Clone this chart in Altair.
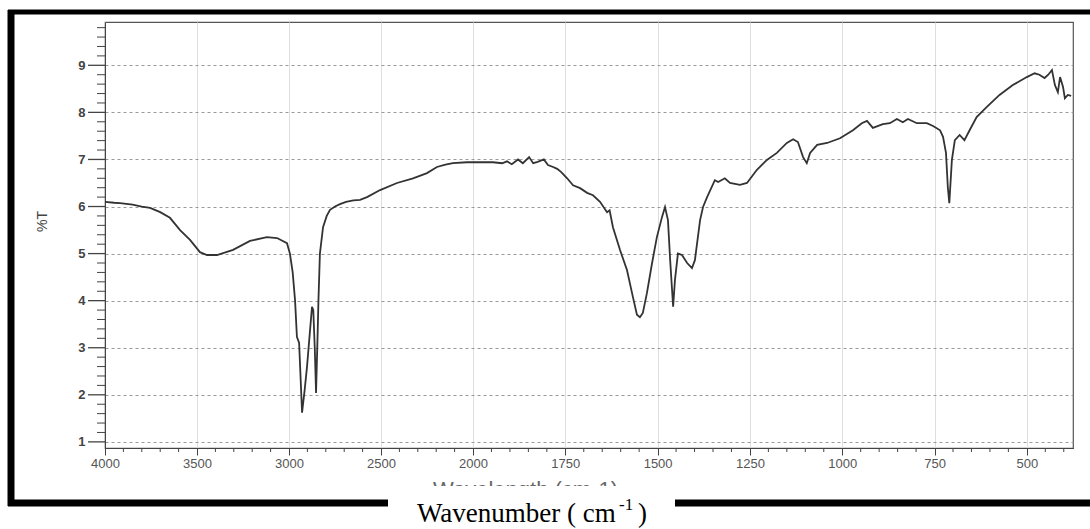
import altair as alt
import pandas as pd

# ---- spectrum values ----
wavenumber = [4000, 3950, 3918, 3850, 3800, 3755, 3700, 3647, 3592, 3538, 3484, 3446, 3391, 3350,
              3304, 3212, 3120, 3065, 3011, 2995, 2980, 2967, 2957, 2945, 2929, 2915, 2902, 2885,
              2875, 2868, 2860, 2853, 2845, 2840, 2832, 2815, 2795, 2777, 2750, 2723, 2690, 2650,
              2614, 2576, 2505, 2413, 2326, 2250, 2196, 2150, 2109, 2033, 1981, 1946, 1921, 1908,
              1895, 1878, 1865, 1848, 1837, 1825, 1808, 1797, 1783, 1772, 1761, 1745, 1729, 1710,
              1691, 1675, 1656, 1637, 1630, 1621, 1602, 1583, 1567, 1556, 1548, 1540, 1529, 1515,
              1502, 1488, 1480, 1472, 1466, 1458, 1453, 1445, 1434, 1420, 1407, 1399, 1385, 1377,
              1366, 1345, 1336, 1318, 1304, 1277, 1258, 1231, 1204, 1177, 1150, 1133, 1120, 1106,
              1096, 1087, 1068, 1041, 1006, 971, 947, 933, 917, 890, 871, 852, 836, 822, 798, 771,
              754, 735, 727, 719, 714, 710, 703, 695, 682, 669, 655, 636, 609, 574, 538, 500, 479,
              466, 452, 442, 432, 424, 416, 410, 402, 397, 389, 380]
transmittance = [6.10, 6.08, 6.07, 6.04, 6.00, 5.97, 5.88, 5.76, 5.50, 5.29, 5.03, 4.97, 4.97, 5.02,
                 5.08, 5.27, 5.35, 5.33, 5.22, 5.00, 4.60, 4.00, 3.23, 3.10, 1.62, 2.10, 2.60, 3.40,
                 3.87, 3.80, 3.00, 2.04, 3.20, 4.00, 5.00, 5.56, 5.80, 5.93, 6.00, 6.05, 6.10, 6.13,
                 6.14, 6.20, 6.35, 6.50, 6.60, 6.71, 6.84, 6.89, 6.92, 6.94, 6.94, 6.94, 6.92, 6.96,
                 6.90, 7.00, 6.92, 7.05, 6.92, 6.95, 7.00, 6.88, 6.84, 6.80, 6.73, 6.60, 6.45, 6.39,
                 6.29, 6.24, 6.10, 5.88, 5.92, 5.56, 5.08, 4.65, 4.08, 3.70, 3.65, 3.74, 4.16, 4.80,
                 5.35, 5.78, 5.99, 5.71, 4.86, 3.87, 4.44, 5.00, 4.97, 4.80, 4.69, 4.86, 5.71, 5.99,
                 6.20, 6.56, 6.52, 6.60, 6.50, 6.46, 6.50, 6.78, 6.99, 7.14, 7.35, 7.43, 7.37, 7.05,
                 6.92, 7.14, 7.31, 7.35, 7.45, 7.62, 7.77, 7.82, 7.67, 7.75, 7.77, 7.86, 7.79, 7.86,
                 7.77, 7.77, 7.71, 7.62, 7.48, 7.14, 6.41, 6.07, 6.99, 7.41, 7.52, 7.41, 7.62, 7.90,
                 8.11, 8.37, 8.58, 8.75, 8.83, 8.80, 8.73, 8.80, 8.90, 8.58, 8.43, 8.75, 8.54, 8.30,
                 8.37, 8.35]

x_major = [4000, 3500, 3000, 2500, 2000, 1750, 1500, 1250, 1000, 750, 500]
x_minor = [3900, 3800, 3700, 3600, 3400, 3300, 3200, 3100, 2900, 2800, 2700, 2600,
           2400, 2300, 2200, 2100, 1950, 1900, 1850, 1800, 1700, 1650, 1600, 1550,
           1450, 1400, 1350, 1300, 1200, 1150, 1100, 1050, 950, 900, 850, 800,
           700, 650, 600, 550, 450, 400]
y_major = [1, 2, 3, 4, 5, 6, 7, 8, 9]
y_minor = [1.2, 1.4, 1.6, 1.8, 2.2, 2.4, 2.6, 2.8, 3.2, 3.4, 3.6, 3.8, 4.2, 4.4, 4.6, 4.8,
           5.2, 5.4, 5.6, 5.8, 6.2, 6.4, 6.6, 6.8, 7.2, 7.4, 7.6, 7.8, 8.2, 8.4, 8.6, 8.8,
           9.2, 9.4, 9.6, 9.8]

W, H = 968, 426

spec = pd.DataFrame({"wn": wavenumber, "t": transmittance})
xmin_df = pd.DataFrame({"wn": x_minor})
ymin_df = pd.DataFrame({"t": y_minor})
ymaj_df = pd.DataFrame({"t": y_major})
one = pd.DataFrame({"k": [0]})

xscale = alt.Scale(domain=[4000, 2000, 375], range=[0, 368, W], nice=False, zero=False)
yscale = alt.Scale(domain=[0.87, 9.92], nice=False, zero=False)

xaxis = alt.Axis(values=x_major, format="d", tickSize=7, tickColor="#444",
                 domainColor="#444", labelFont="Liberation Sans", labelFontSize=13,
                 labelColor="#555", labelPadding=2, labelFlush=False, labelOverlap=False,
                 grid=True, gridColor="#dedede", gridWidth=1,
                 title="Wavelength (cm-1)", titleFont="Liberation Sans",
                 titleFontSize=22, titleFontWeight="normal", titleColor="#666",
                 titleX=420, titleY=48, titleBaseline="alphabetic", titleAlign="center")
yaxis = alt.Axis(values=y_major, format="d", ticks=False,
                 domainColor="#444", labelFont="Liberation Sans", labelFontSize=13,
                 labelFontWeight="bold", labelColor="#444", labelPadding=20,
                 labelFlush=False, labelOverlap=False,
                 grid=True, gridColor="#9a9a9a", gridDash=[3, 3], gridWidth=1,
                 title="%T", titleFont="Liberation Sans", titleFontSize=14,
                 titleFontWeight="normal", titleColor="#444",
                 titleX=-63, titleY=199, titleAlign="center", titleBaseline="middle")

line = alt.Chart(spec).mark_line(color="#333333", strokeWidth=1.8).encode(
    x=alt.X("wn:Q", scale=xscale, axis=xaxis),
    y=alt.Y("t:Q", scale=yscale, axis=yaxis),
)

xminor = alt.Chart(xmin_df).mark_rule(color="#444", strokeWidth=1).encode(
    x=alt.X("wn:Q", scale=xscale, axis=xaxis),
    y=alt.value(H), y2=alt.value(H + 4),
)
yminor = alt.Chart(ymin_df).mark_rule(color="#444", strokeWidth=1).encode(
    y=alt.Y("t:Q", scale=yscale, axis=yaxis),
    x=alt.value(0), x2=alt.value(-8),
)
ymajor = alt.Chart(ymaj_df).mark_rule(color="#444", strokeWidth=1.3).encode(
    y=alt.Y("t:Q", scale=yscale, axis=yaxis),
    x=alt.value(0), x2=alt.value(-17),
)

# scanned-page frame and the overlaid axis caption
top_bar = alt.Chart(one).mark_rule(color="black", strokeWidth=5).encode(
    x=alt.value(-97), x2=alt.value(985), y=alt.value(-10))
left_bar = alt.Chart(one).mark_rule(color="black", strokeWidth=7).encode(
    x=alt.value(-94), y=alt.value(-12), y2=alt.value(484))
bottom_bar = alt.Chart(one).mark_rule(color="black", strokeWidth=7).encode(
    x=alt.value(-97), x2=alt.value(985), y=alt.value(481))
cover = alt.Chart(one).mark_rect(color="white").encode(
    x=alt.value(283), x2=alt.value(570), y=alt.value(464), y2=alt.value(507))
cap_main = alt.Chart(one).mark_text(font="Liberation Serif", fontSize=27, align="left",
                                    baseline="alphabetic", color="black").encode(
    x=alt.value(312), y=alt.value(500), text=alt.value("Wavenumber ( cm"))
cap_sup = alt.Chart(one).mark_text(font="Liberation Serif", fontSize=17, align="left",
                                   baseline="alphabetic", color="black").encode(
    x=alt.value(514), y=alt.value(488), text=alt.value("-1"))
cap_close = alt.Chart(one).mark_text(font="Liberation Serif", fontSize=27, align="left",
                                     baseline="alphabetic", color="black").encode(
    x=alt.value(533), y=alt.value(500), text=alt.value(")"))

chart = alt.layer(
    line, xminor, yminor, ymajor, top_bar, left_bar, bottom_bar, cover,
    cap_main, cap_sup, cap_close
).properties(
    width=W, height=H,
    autosize=alt.AutoSizeParams(type="none"),
    padding={"left": 105, "top": 22, "right": 17, "bottom": 81},
    background="white",
).configure_view(stroke="#555", strokeWidth=1.2)

chart.save("out.html", embed_options={"renderer": "svg", "actions": False})
